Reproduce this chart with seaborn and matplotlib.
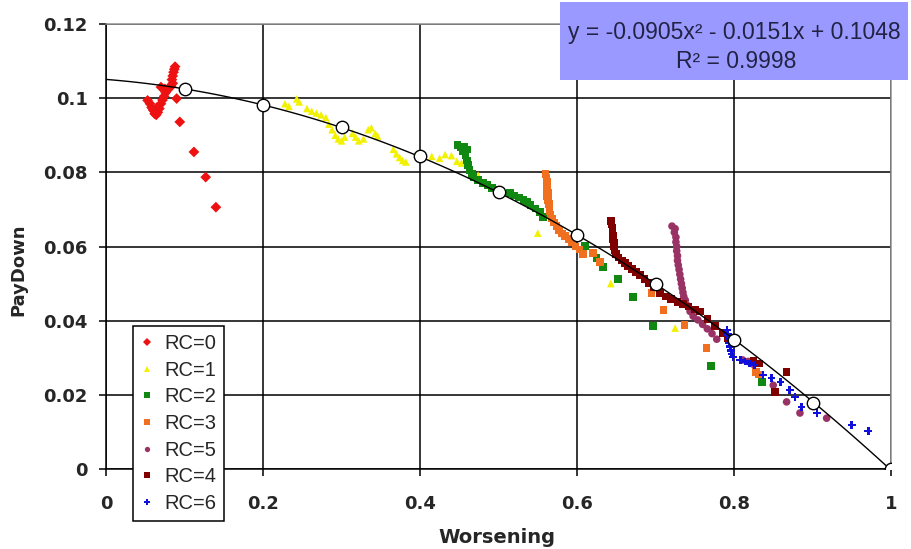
import matplotlib
matplotlib.use("Agg")
import matplotlib.pyplot as plt
from matplotlib.patches import Rectangle
import seaborn as sns
import pandas as pd

# points: x = Worsening, y = PayDown
rc0_x = [0.053, 0.056, 0.058, 0.060, 0.062, 0.064, 0.066, 0.068, 0.070, 0.072, 0.074,
         0.076, 0.078, 0.080, 0.083, 0.085, 0.084, 0.085, 0.086, 0.087, 0.088, 0.062,
         0.065, 0.075, 0.070, 0.090, 0.094, 0.112, 0.127, 0.140]
rc0_y = [0.0994, 0.0985, 0.0975, 0.0968, 0.0958, 0.0955, 0.0962, 0.0972, 0.0985, 0.0995, 0.1005,
         0.1015, 0.1022, 0.1028, 0.1032, 0.1040, 0.1050, 0.1060, 0.1070, 0.1078, 0.1085, 0.0965,
         0.0975, 0.1025, 0.1030, 0.0999, 0.0936, 0.0855, 0.0787, 0.0706]

rc1_x = [0.228, 0.233, 0.243, 0.246, 0.256, 0.262, 0.268, 0.274, 0.280, 0.284, 0.288,
         0.292, 0.296, 0.300, 0.304, 0.314, 0.318, 0.322, 0.328, 0.334, 0.338, 0.343,
         0.346, 0.366, 0.370, 0.374, 0.378, 0.382, 0.415, 0.425, 0.432, 0.440, 0.447,
         0.453, 0.474, 0.550, 0.643, 0.725]
rc1_y = [0.0985, 0.0978, 0.0998, 0.0990, 0.0972, 0.0965, 0.0960, 0.0955, 0.0948, 0.0930, 0.0915,
         0.0900, 0.0890, 0.0885, 0.0895, 0.0905, 0.0895, 0.0885, 0.0890, 0.0915, 0.0920, 0.0905,
         0.0898, 0.0862, 0.0850, 0.0840, 0.0832, 0.0828, 0.0843, 0.0838, 0.0848, 0.0845, 0.0830,
         0.0825, 0.0792, 0.0636, 0.0500, 0.0380]

rc2_x = [0.448, 0.452, 0.456, 0.460, 0.455, 0.458, 0.460, 0.461, 0.463, 0.466, 0.468,
         0.474, 0.480, 0.486, 0.492, 0.498, 0.515, 0.520, 0.526, 0.532, 0.536, 0.541,
         0.547, 0.553, 0.557, 0.610, 0.625, 0.633, 0.652, 0.671, 0.697, 0.771, 0.836]
rc2_y = [0.0873, 0.0868, 0.0870, 0.0862, 0.0858, 0.0846, 0.0832, 0.0819, 0.0806, 0.0795, 0.0787,
         0.0780, 0.0772, 0.0766, 0.0758, 0.0752, 0.0744, 0.0738, 0.0732, 0.0726, 0.0720, 0.0712,
         0.0702, 0.0693, 0.0679, 0.0601, 0.0569, 0.0544, 0.0512, 0.0464, 0.0385, 0.0278, 0.0234]

rc3_x = [0.560, 0.561, 0.562, 0.561, 0.562, 0.563, 0.562, 0.563, 0.564, 0.565, 0.565,
         0.566, 0.568, 0.571, 0.574, 0.577, 0.581, 0.585, 0.590, 0.594, 0.598, 0.603,
         0.608, 0.620, 0.629, 0.695, 0.710, 0.737, 0.765, 0.828, 0.832]
rc3_y = [0.0795, 0.0785, 0.0775, 0.0765, 0.0755, 0.0745, 0.0735, 0.0725, 0.0715, 0.0705, 0.0695,
         0.0685, 0.0675, 0.0665, 0.0655, 0.0645, 0.0635, 0.0628, 0.0620, 0.0612, 0.0600, 0.0592,
         0.0580, 0.0582, 0.0558, 0.0474, 0.0428, 0.0388, 0.0326, 0.0262, 0.0255]

rc4_x = [0.643, 0.644, 0.645, 0.645, 0.646, 0.646, 0.647, 0.647, 0.648, 0.650, 0.653,
         0.657, 0.661, 0.665, 0.670, 0.675, 0.680, 0.686, 0.692, 0.698, 0.706, 0.713,
         0.720, 0.728, 0.735, 0.742, 0.750, 0.757, 0.766, 0.776, 0.786, 0.792, 0.825,
         0.832, 0.867, 0.852]
rc4_y = [0.0668, 0.0660, 0.0650, 0.0640, 0.0630, 0.0620, 0.0610, 0.0600, 0.0590, 0.0580, 0.0570,
         0.0562, 0.0555, 0.0548, 0.0540, 0.0532, 0.0523, 0.0512, 0.0502, 0.0490, 0.0475, 0.0465,
         0.0458, 0.0450, 0.0445, 0.0438, 0.0430, 0.0425, 0.0405, 0.0385, 0.0367, 0.0352, 0.0292,
         0.0285, 0.0261, 0.0208]

rc5_x = [0.721, 0.725, 0.724, 0.726, 0.726, 0.727, 0.727, 0.728, 0.728, 0.729, 0.730,
         0.731, 0.732, 0.733, 0.734, 0.735, 0.736, 0.738, 0.741, 0.744, 0.748, 0.754,
         0.760, 0.766, 0.772, 0.778, 0.811, 0.818, 0.825, 0.850, 0.867, 0.884, 0.918]
rc5_y = [0.0655, 0.0648, 0.0638, 0.0625, 0.0612, 0.0600, 0.0588, 0.0575, 0.0562, 0.0550, 0.0538,
         0.0525, 0.0512, 0.0500, 0.0488, 0.0476, 0.0465, 0.0455, 0.0440, 0.0425, 0.0412, 0.0402,
         0.0390, 0.0378, 0.0365, 0.0350, 0.0294, 0.0290, 0.0282, 0.0226, 0.0181, 0.0151, 0.0137]

rc6_x = [0.791, 0.792, 0.793, 0.794, 0.795, 0.796, 0.797, 0.799, 0.808, 0.814, 0.820,
         0.826, 0.837, 0.848, 0.859, 0.871, 0.878, 0.886, 0.906, 0.950, 0.971]
rc6_y = [0.0375, 0.0362, 0.0350, 0.0340, 0.0330, 0.0320, 0.0310, 0.0302, 0.0294, 0.0290, 0.0285,
         0.0280, 0.0253, 0.0245, 0.0234, 0.0213, 0.0194, 0.0167, 0.0151, 0.0119, 0.0102]

# open circles of the fitted series
fit_x = [0.1, 0.2, 0.3, 0.4, 0.5, 0.6, 0.7, 0.8, 0.9, 1.0]
fit_y = [0.1024, 0.0982, 0.0921, 0.0843, 0.0746, 0.0632, 0.0499, 0.0348, 0.0179, 0.0]

x_ticks = [0, 0.2, 0.4, 0.6, 0.8, 1.0]
x_tick_labels = ["0", "0.2", "0.4", "0.6", "0.8", "1"]
y_ticks = [0, 0.02, 0.04, 0.06, 0.08, 0.10, 0.12]
y_tick_labels = ["0", "0.02", "0.04", "0.06", "0.08", "0.1", "0.12"]

equation = "y = -0.0905x² - 0.0151x + 0.1048"
r_squared = "R² = 0.9998"

series = {
    "RC=0": (rc0_x, rc0_y),
    "RC=1": (rc1_x, rc1_y),
    "RC=2": (rc2_x, rc2_y),
    "RC=3": (rc3_x, rc3_y),
    "RC=5": (rc5_x, rc5_y),
    "RC=4": (rc4_x, rc4_y),
    "RC=6": (rc6_x, rc6_y),
}
order = list(series.keys())
palette = {"RC=0": "#EE1111", "RC=1": "#F2F200", "RC=2": "#118811", "RC=3": "#F07020",
           "RC=5": "#993366", "RC=4": "#800000", "RC=6": "#1010DD"}
markers = {"RC=0": "D", "RC=1": "^", "RC=2": "s", "RC=3": "s",
           "RC=5": "o", "RC=4": "s", "RC=6": "P"}

df = pd.concat([pd.DataFrame({"Worsening": x, "PayDown": y, "RC": name})
                for name, (x, y) in series.items()], ignore_index=True)

sns.set_style("white")
plt.rcParams["font.family"] = ["Liberation Sans", "DejaVu Sans"]

fig = plt.figure(figsize=(9.11, 5.49), dpi=100)
ax = fig.add_axes([106 / 911, 80 / 549, 785 / 911, 445 / 549])
ax.set_xlim(0, 1)
ax.set_ylim(0, 0.12)

# trend line through the fitted points, extended over the full x range
sns.regplot(x=fit_x, y=fit_y, order=2, ci=None, truncate=False, scatter=False,
            line_kws=dict(color="black", lw=1.0, zorder=4), ax=ax)

sns.scatterplot(data=df, x="Worsening", y="PayDown", hue="RC", style="RC",
                hue_order=order, style_order=order, palette=palette, markers=markers,
                s=30, linewidth=0, ax=ax, zorder=3)

sns.scatterplot(x=fit_x, y=fit_y, marker="o", s=80, facecolor="white",
                edgecolor="black", linewidth=1.0, ax=ax, zorder=5, legend=False)

ax.set_xlim(0, 1)
ax.set_ylim(0, 0.12)
ax.grid(True, color="black", lw=1.1)
ax.set_axisbelow(True)
for side in ["left", "bottom"]:
    ax.spines[side].set_color("black")
    ax.spines[side].set_linewidth(1.1)
for side in ["top", "right"]:
    ax.spines[side].set_color("#909090")
    ax.spines[side].set_linewidth(1.1)

tick_font = dict(family="DejaVu Sans", weight="bold", size=13)
ax.set_xticks(x_ticks, x_tick_labels, **tick_font)
ax.set_yticks(y_ticks, y_tick_labels, **tick_font)
ax.tick_params(axis="both", bottom=True, left=True, direction="out",
               length=5, width=1.1, color="black")
ax.tick_params(axis="x", pad=14)
ax.tick_params(axis="y", pad=8)

ax.set_xlabel("Worsening", family="DejaVu Sans", weight="bold", size=14)
ax.set_ylabel("PayDown", family="DejaVu Sans", weight="bold", size=13)
ax.xaxis.set_label_coords(0.498, -0.132)
ax.yaxis.set_label_coords(-0.100, 0.447)

sns.move_legend(ax, "upper left", bbox_to_anchor=(133 / 911, 1 - 326 / 549),
                bbox_transform=fig.transFigure, title=None, frameon=True,
                fontsize=14.5, labelspacing=0.38, handlelength=0.6, handletextpad=0.55,
                borderpad=0.4, borderaxespad=0, fancybox=False, markerscale=0.7)
leg = ax.get_legend()
leg.get_frame().set_edgecolor("black")
leg.get_frame().set_linewidth(1.1)
leg.get_frame().set_alpha(1)

# equation box in the top right corner
fig.patches.append(Rectangle((560 / 911, 1 - 80 / 549), 348 / 911, 78 / 549,
                             transform=fig.transFigure, facecolor="#9999FF",
                             edgecolor="none", zorder=10))
fig.text(734 / 911, 1 - 32 / 549, equation, ha="center", va="center",
         size=16.5, color="#222244", zorder=11)
fig.text(736 / 911, 1 - 62 / 549, r_squared, ha="center", va="center",
         size=16.5, color="#222244", zorder=11)

fig.savefig("out.png", dpi=100)
